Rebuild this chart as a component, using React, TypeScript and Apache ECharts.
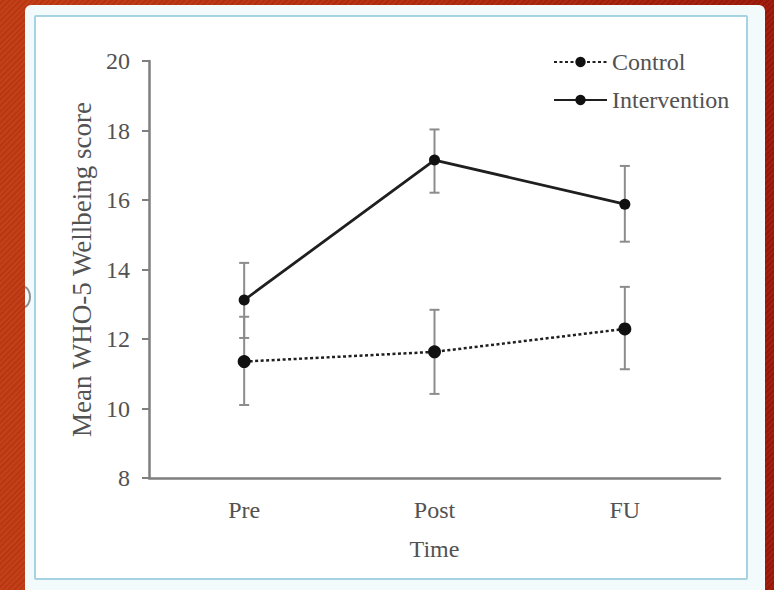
import React, { useEffect, useRef } from "react";
import * as echarts from "echarts";

const categories = ["Pre", "Post", "FU"];
const controlMean = [11.35, 11.63, 12.29];
const controlLower = [10.1, 10.42, 11.13];
const controlUpper = [12.64, 12.84, 13.5];
const interventionMean = [13.12, 17.15, 15.88];
const interventionLower = [12.03, 16.21, 14.8];
const interventionUpper = [14.19, 18.03, 16.98];
const yTicks = { min: 8, max: 20, interval: 2 };

const FONT = "'Liberation Serif', 'Times New Roman', serif";
const TEXT = "#525252";

function errorSeries(name: string, lower: number[], upper: number[]) {
  return {
    type: "custom",
    name: name + " error",
    z: 1,
    silent: true,
    data: categories.map((_, i) => [i, lower[i], upper[i]]),
    renderItem: (params: any, api: any) => {
      const x = api.value(0);
      const lo = api.coord([x, api.value(1)]);
      const hi = api.coord([x, api.value(2)]);
      const w = 5;
      const style = { stroke: "#8c8c8c", lineWidth: 2 };
      return {
        type: "group",
        children: [
          { type: "line", shape: { x1: lo[0], y1: lo[1], x2: hi[0], y2: hi[1] }, style },
          { type: "line", shape: { x1: lo[0] - w, y1: lo[1], x2: lo[0] + w, y2: lo[1] }, style },
          { type: "line", shape: { x1: hi[0] - w, y1: hi[1], x2: hi[0] + w, y2: hi[1] }, style },
        ],
      };
    },
  };
}

export default function App() {
  const ref = useRef<HTMLDivElement>(null);
  useEffect(() => {
    document.body.style.margin = "0";
    if (!ref.current) return;
    const chart = echarts.init(ref.current, null, { renderer: "svg" });
    chart.setOption({
      animation: false,
      grid: { left: 149, right: 54, top: 61, bottom: 112 },
      legend: {
        data: ["Control", "Intervention"],
        orient: "vertical",
        left: 548,
        top: 45,
        itemWidth: 53,
        itemHeight: 13,
        itemGap: 14,
        textStyle: { fontFamily: FONT, fontSize: 24, color: TEXT },
      },
      xAxis: {
        type: "category",
        data: categories,
        boundaryGap: true,
        axisLine: { lineStyle: { color: "#7f7f7f", width: 2.5 } },
        axisTick: { show: false },
        axisLabel: { fontFamily: FONT, fontSize: 24, color: TEXT, margin: 20 },
        name: "Time",
        nameLocation: "middle",
        nameGap: 59,
        nameTextStyle: { fontFamily: FONT, fontSize: 24, color: TEXT },
      },
      yAxis: {
        type: "value",
        min: yTicks.min,
        max: yTicks.max,
        interval: yTicks.interval,
        splitLine: { show: false },
        axisLine: { show: true, lineStyle: { color: "#7f7f7f", width: 2.5 } },
        axisTick: { show: true, length: 7, lineStyle: { color: "#7f7f7f", width: 2 } },
        axisLabel: { fontFamily: FONT, fontSize: 24, color: TEXT, margin: 19 },
        name: "Mean WHO-5 Wellbeing score",
        nameLocation: "middle",
        nameGap: 52,
        nameTextStyle: { fontFamily: FONT, fontSize: 27, color: TEXT },
      },
      series: [
        errorSeries("Control", controlLower, controlUpper),
        errorSeries("Intervention", interventionLower, interventionUpper),
        {
          type: "line",
          name: "Control",
          data: controlMean,
          z: 3,
          symbol: "circle",
          symbolSize: 13,
          itemStyle: { color: "#111" },
          lineStyle: { color: "#1f1f1f", width: 2.5, type: [3, 2.5] },
        },
        {
          type: "line",
          name: "Intervention",
          data: interventionMean,
          z: 3,
          symbol: "circle",
          symbolSize: 11,
          itemStyle: { color: "#111" },
          lineStyle: { color: "#1f1f1f", width: 2.8, type: "solid" },
        },
      ],
    });
    return () => chart.dispose();
  }, []);

  return (
    <div
      style={{
        position: "relative",
        width: 774,
        height: 590,
        overflow: "hidden",
        background:
          "repeating-linear-gradient(135deg, rgba(255,255,255,0.035) 0px, rgba(255,255,255,0.035) 2px, rgba(0,0,0,0.04) 2px, rgba(0,0,0,0.04) 4px), linear-gradient(90deg, #c03a12 0%, #b42c0c 50%, #9c1708 100%)",
      }}
    >
      <div
        style={{
          position: "absolute",
          left: 25,
          top: 5,
          width: 740,
          height: 600,
          background: "#f3fafc",
          borderRadius: 6,
        }}
      />
      <div
        style={{
          position: "absolute",
          left: 25,
          top: 285,
          width: 8,
          height: 24,
          overflow: "hidden",
        }}
      >
        <div
          style={{
            position: "absolute",
            left: -8,
            top: 1,
            width: 10,
            height: 18,
            border: "2.5px solid #8e8e8e",
            borderRadius: "50%",
          }}
        />
      </div>
      <div
        style={{
          position: "absolute",
          left: 34,
          top: 15,
          width: 710,
          height: 561,
          background: "#ffffff",
          border: "2px solid #a6d3e2",
          borderRadius: 2,
        }}
      />
      <div ref={ref} style={{ position: "absolute", left: 0, top: 0, width: 774, height: 590 }} />
    </div>
  );
}
